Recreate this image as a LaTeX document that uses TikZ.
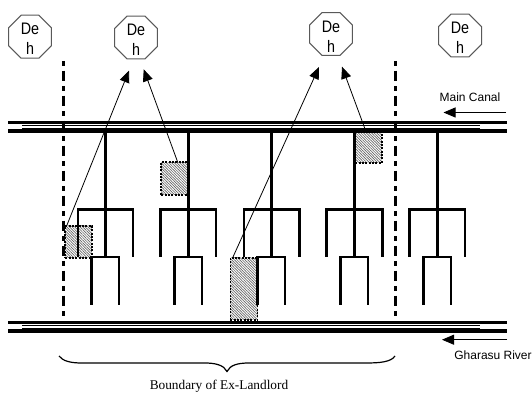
\documentclass[tikz,border=0pt]{standalone}
\usepackage{fontspec}
\setmainfont{Liberation Sans}
\newfontfamily\serifface{Liberation Serif}
\newfontfamily\tallsans[FakeStretch=0.86]{Liberation Sans}
\newcommand{\dehtext}{\makebox[0pt]{\raisebox{1.3pt}[0pt][0pt]{De}}\makebox[0pt]{\raisebox{-13.7pt}[0pt][0pt]{h}}}
\usetikzlibrary{shapes.geometric,arrows.meta,patterns.meta}
\tikzset{
  x=0.75pt,y=-0.75pt,
  house/.style={draw=black!65,line width=0.75pt,regular polygon,regular polygon sides=8,minimum size=34.9pt,inner sep=0pt,font=\tallsans\fontsize{12.5pt}{15.5pt}\selectfont},
  boundary/.style={line width=2.3pt,dash pattern=on 3.5pt off 3.75pt on 7.75pt off 3.75pt},
  bank/.style={line width=2.5pt},
  thin line/.style={line width=0.6pt},
  stem/.style={line width=2.3pt},
  comb/.style={line width=1.8pt},
  plot/.style={draw,line width=1.2pt,dash pattern=on 1.5pt off 1pt,pattern={Lines[angle=-45,distance=1.4pt,line width=0.5pt]},pattern color=black!60},
  conn/.style={line width=0.6pt,-{Triangle[length=9pt,width=7.5pt]}},
  label/.style={inner sep=0pt,font=\fontsize{9pt}{11pt}\selectfont}
}
\begin{document}
\begin{tikzpicture}
\useasboundingbox (0,0) rectangle (532,395);
\fill[white] (0,0) rectangle (532,395);

% hatched plots
\node[plot,minimum width=20pt,minimum height=24pt,inner sep=0pt] (pa) at (78.5,242) {};
\node[plot,minimum width=20pt,minimum height=24.5pt,inner sep=0pt] (pb) at (174.5,178.5) {};
\node[plot,minimum width=20.5pt,minimum height=46.5pt,inner sep=0pt] (pc) at (244,289) {};
\node[plot,minimum width=20pt,minimum height=23pt,inner sep=0pt] (pd) at (368.5,147.5) {};

% houses
\node[house] (h1) at (30,36.7) {\dehtext};
\node[house] (h2) at (136,37.5) {\dehtext};
\node[house] (h3) at (331,34) {\dehtext};
\node[house] (h4) at (460,35.5) {\dehtext};

% canal and river
\coordinate (c1) at (8,122.5); \coordinate (c2) at (507,122.5);
\coordinate (c3) at (8,131); \coordinate (c4) at (507,131);
\draw[bank] (c1) -- (c2);
\draw[bank] (c3) -- (c4);
\draw[thin line] (22,125.8) -- (480,125.8);
\draw[thin line] (22,128.3) -- (480,128.3);
\draw[bank] (8,322.5) -- (507,322.5);
\draw[bank] (8,331) -- (507,331);
\draw[thin line] (22,325.8) -- (480,325.8);
\draw[thin line] (22,328.3) -- (480,328.3);

% boundaries
\draw[boundary] (63.5,61) -- (63.5,319);
\draw[boundary] (395.5,61) -- (395.5,319);

% field channels
\foreach \mx/\cl/\cr/\ll/\lr in {105.5/78/133/91.5/119, 188.5/160.5/216/174.5/202, 271.3/244/299.3/257.5/285, 354.7/326.3/382.3/340.3/368, 437.7/409.3/465/423.3/451}{
  \draw[stem] (\mx,131) -- (\mx,257);
  \draw[comb] (\cl,257) -- (\cl,209.5) -- (\cr,209.5) -- (\cr,257);
  \draw[comb] (\ll,305) -- (\ll,257) -- (\lr,257) -- (\lr,305);
}

% arrows
\coordinate (sa) at (67,225);
\coordinate (sb) at (178,163);
\coordinate (sc) at (233,257);
\coordinate (sd) at (366.5,133);
\coordinate (ta) at (129,70.5);
\coordinate (tb) at (143.7,69.3);
\coordinate (tc) at (319,67);
\coordinate (td) at (342,66.7);
\draw[conn] (sa) -- (ta);
\draw[conn] (sb) -- (tb);
\draw[conn] (sc) -- (tc);
\draw[conn] (sd) -- (td);

% flow arrows and labels
\node[label] (mc) at (470,97) {Main Canal};
\coordinate (f1) at (506,112.5); \coordinate (f2) at (443.5,112.5);
\draw[conn] (f1) -- (f2);
\node[label] (gr) at (493,355) {Gharasu River};
\coordinate (f3) at (507,339.7); \coordinate (f4) at (442,339.7);
\draw[conn] (f3) -- (f4);

% brace
\coordinate (b1) at (59,356); \coordinate (bt) at (227,371.5); \coordinate (b2) at (395,356);
\draw[line width=0.9pt] (b1) .. controls (63,361) and (70,363) .. (82,363)
  -- (205,363) .. controls (215,363) and (224,365) .. (bt)
  .. controls (230,365) and (238,363) .. (249,363)
  -- (366,363) .. controls (380,363) and (391,362) .. (b2);
\node[inner sep=0pt,font=\serifface\fontsize{10pt}{12pt}\selectfont] (bl) at (219,386) {Boundary of Ex-Landlord};
\end{tikzpicture}
\end{document}
